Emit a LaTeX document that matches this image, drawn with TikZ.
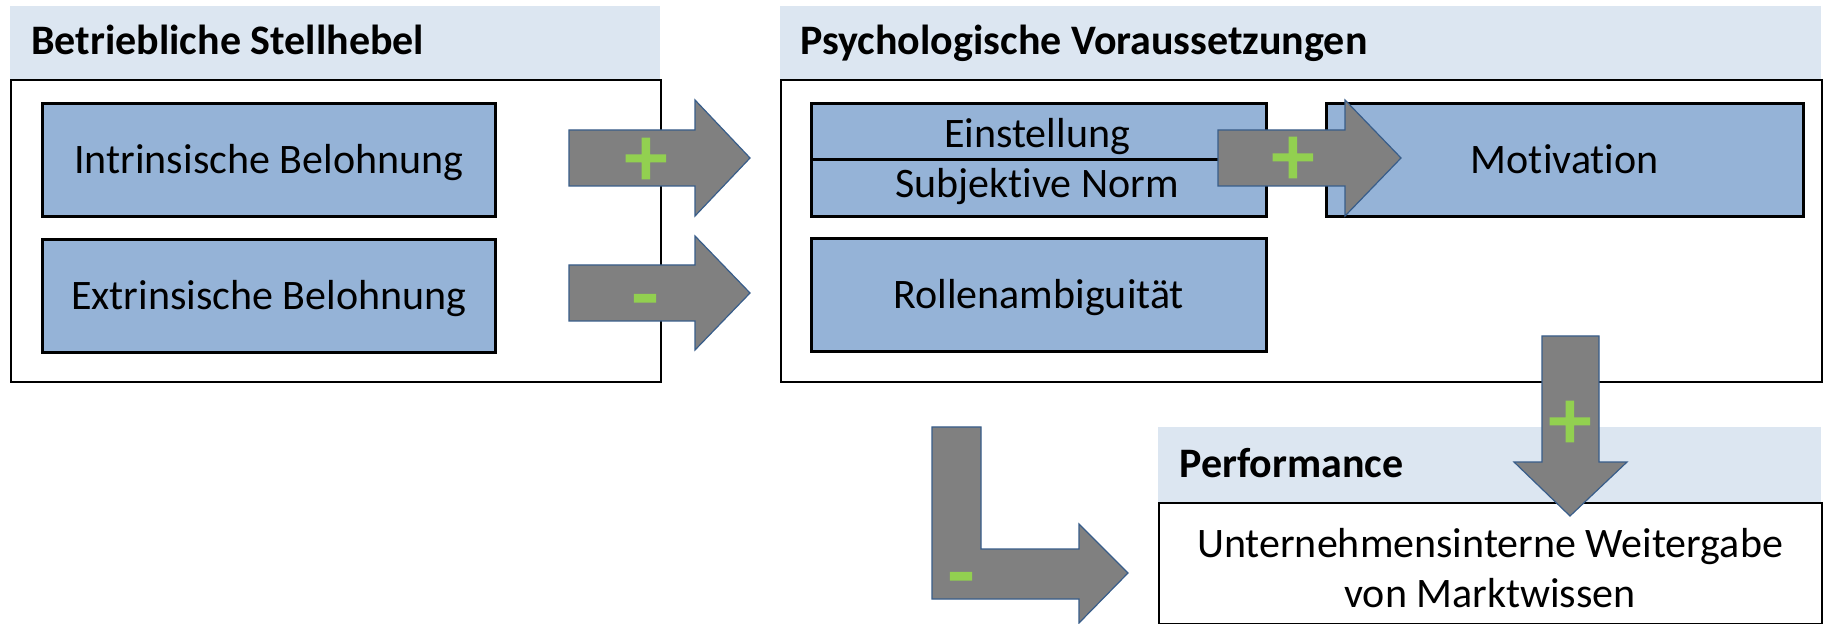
\documentclass[tikz,border=0pt]{standalone}
\usepackage{fontspec}
\setmainfont{Carlito}[Ligatures=NoCommon]
\newfontfamily\signfont[FakeBold=3]{Carlito}
\definecolor{boxblue}{HTML}{95B3D7}
\definecolor{bandblue}{HTML}{DCE6F1}
\definecolor{arrowgray}{HTML}{808080}
\definecolor{arrowline}{HTML}{385D8A}
\definecolor{signgreen}{HTML}{92D050}
\begin{document}
\begin{tikzpicture}[x=0.5pt,y=-0.5pt,
  band/.style={fill=bandblue, draw=none, anchor=north west, inner sep=0pt},
  outer/.style={draw=black, line width=1pt, fill=white, anchor=north west, inner sep=0pt},
  inner/.style={draw=black, line width=1.3pt, fill=boxblue, anchor=north west, inner sep=0pt,
    font=\fontsize{21}{25}\selectfont, text height=13.7pt, text depth=0pt},
  label/.style={anchor=base, inner sep=0pt, font=\fontsize{21}{25}\selectfont},
  title/.style={anchor=base west, inner sep=0pt, font=\bfseries\fontsize{21}{25}\selectfont},
  blockarrow/.style={fill=arrowgray, draw=arrowline, line width=0.6pt, line join=miter},
  sign/.style={text=signgreen, font=\signfont\fontsize{42}{42}\selectfont, inner sep=0pt, anchor=base}
]
\useasboundingbox (0,0) rectangle (1823,624);
\fill[white] (0,0) rectangle (1823,624);

% left group
\node[band, minimum width=325pt, minimum height=36.5pt] (bandL) at (10,6) {};
\node[title] (titleL) at (31,55) {Betriebliche Stellhebel};
\node[outer, minimum width=325pt, minimum height=151pt] (boxL) at (10,79) {};
\node[inner, minimum width=226.5pt, minimum height=56.5pt] (intr) at (41,102) {Intrinsische Belohnung};
\node[inner, minimum width=226.5pt, minimum height=56.5pt] (extr) at (41,238) {Extrinsische Belohnung};

% right group
\node[band, minimum width=520.5pt, minimum height=36.5pt] (bandR) at (780,6) {};
\node[title] (titleR) at (800,55) {Psychologische Voraussetzungen};
\node[outer, minimum width=520.5pt, minimum height=151pt] (boxR) at (780,79) {};
\node[inner, minimum width=227.5pt, minimum height=56.5pt] (einst) at (810,102) {};
\draw[line width=1.3pt] (einst.west) -- (einst.east);
\node[label] (einstT) at (1037,148) {Einstellung};
\node[label] (normT) at (1037,198) {Subjektive Norm};
\node[inner, minimum width=238.5pt, minimum height=56.5pt] (motiv) at (1325,102) {Motivation};
\node[inner, minimum width=227.5pt, minimum height=56.5pt] (rolle) at (810,237) {Rollenambiguität};

% performance group
\node[band, minimum width=331.5pt, minimum height=37.5pt] (bandP) at (1158,427) {};
\node[title] (titleP) at (1179,477) {Performance};
\node[outer, minimum width=331.5pt, minimum height=60.5pt] (boxP) at (1158,502) {};
\node[align=center, inner sep=0pt, font=\fontsize{21}{25}\selectfont] (perfT) at (1490,568)
  {Unternehmensinterne Weitergabe\\von Marktwissen};

% block arrows
\draw[blockarrow] (569,130) -- (695,130) -- (695,100) -- (750,158) -- (695,216) -- (695,186) -- (569,186) -- cycle;
\draw[blockarrow] (569,265) -- (695,265) -- (695,236) -- (750,293) -- (695,350) -- (695,321) -- (569,321) -- cycle;
\draw[blockarrow] (1218,130) -- (1345,130) -- (1345,100) -- (1401,158) -- (1345,216) -- (1345,186) -- (1218,186) -- cycle;
\draw[blockarrow] (1542,336) -- (1599,336) -- (1599,462) -- (1627,462) -- (1570,516) -- (1514,462) -- (1542,462) -- cycle;
\draw[blockarrow] (932,427) -- (981,427) -- (981,549) -- (1079,549) -- (1079,524) -- (1128,573) -- (1079,623) -- (1079,599) -- (932,599) -- cycle;

% signs
\node[sign] (s1) at (646,185) {+};
\node[sign] (s2) at (645,322) {-};
\node[sign] (s3) at (1293,184) {+};
\node[sign] (s4) at (1570,448) {+};
\node[sign] (s5) at (961,600) {-};
\end{tikzpicture}
\end{document}
